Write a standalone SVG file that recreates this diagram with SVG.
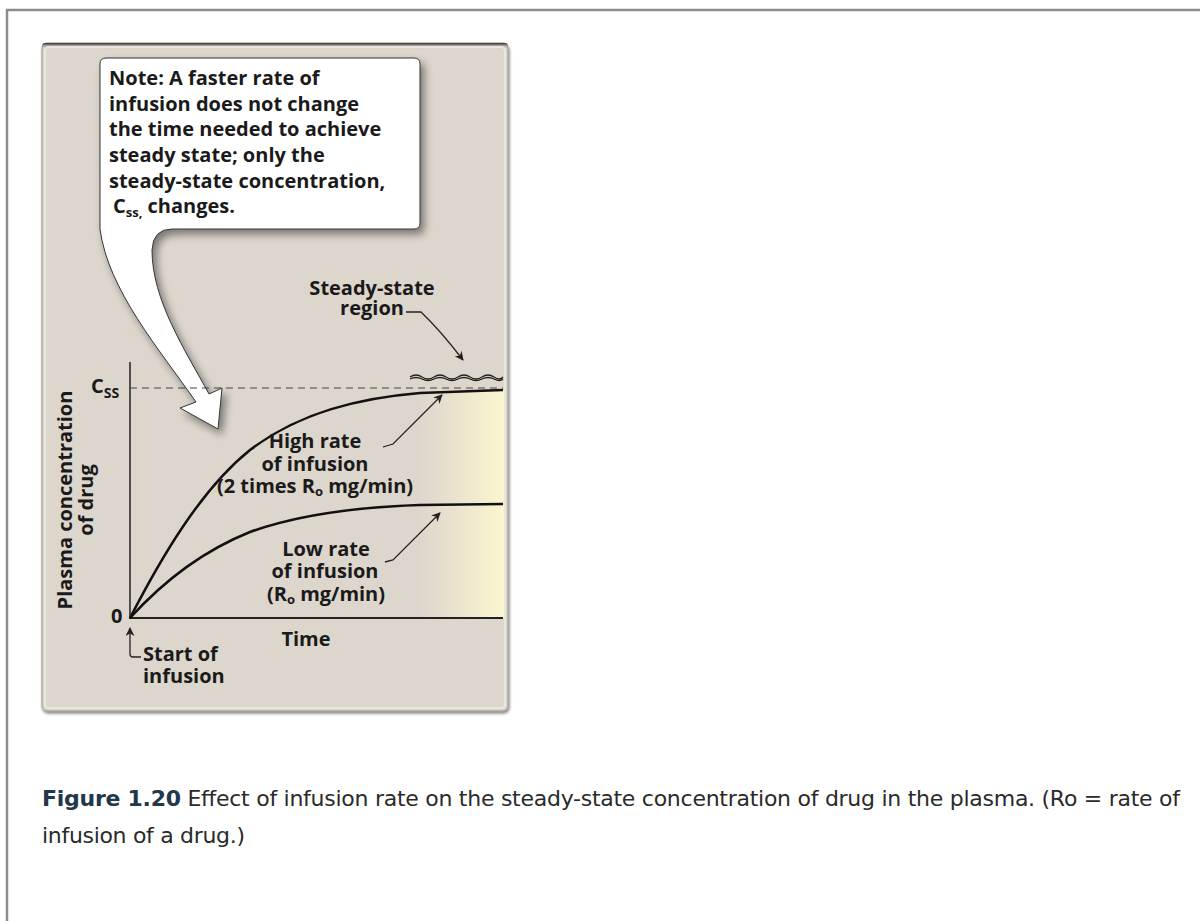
<svg xmlns="http://www.w3.org/2000/svg" width="1200" height="921" viewBox="0 0 1200 921">
<style>
.lbl{font-family:"Open Sans","Liberation Sans",sans-serif;font-weight:bold;font-size:20px;fill:#1a1a1a}
.note{font-family:"Open Sans","Liberation Sans",sans-serif;font-weight:bold;font-size:20px;fill:#1a1a1a}
.cap{font-family:"DejaVu Sans","Liberation Sans",sans-serif;font-size:22px;fill:#2a2a2a}
.curve{fill:none;stroke:#111;stroke-width:2.5}
.thin{fill:none;stroke:#222;stroke-width:1.3}
</style>
<defs>
<marker id="ah" viewBox="0 0 10 10" refX="9" refY="5" markerWidth="9" markerHeight="9" markerUnits="userSpaceOnUse" orient="auto">
<path d="M0,0 L10,5 L0,10 L3,5 Z" fill="#222"/>
</marker>
<linearGradient id="yel" x1="0" y1="0" x2="1" y2="0">
<stop offset="0" stop-color="#fbf6cf" stop-opacity="0"/>
<stop offset="1" stop-color="#fbf6cf" stop-opacity="1"/>
</linearGradient>
<linearGradient id="panelTop" x1="0" y1="0" x2="0" y2="1">
<stop offset="0" stop-color="#2a2622"/>
<stop offset="1" stop-color="#ddd6cd" stop-opacity="0"/>
</linearGradient>
<filter id="sh" x="-20%" y="-20%" width="150%" height="150%">
<feGaussianBlur in="SourceAlpha" stdDeviation="4"/>
<feOffset dx="4" dy="5" result="b"/>
<feComponentTransfer><feFuncA type="linear" slope="0.45"/></feComponentTransfer>
<feMerge><feMergeNode/><feMergeNode in="SourceGraphic"/></feMerge>
</filter>
<filter id="psh" x="-5%" y="-5%" width="110%" height="110%">
<feGaussianBlur in="SourceAlpha" stdDeviation="1.5"/>
<feOffset dx="1" dy="1.5"/>
<feComponentTransfer><feFuncA type="linear" slope="0.5"/></feComponentTransfer>
<feMerge><feMergeNode/><feMergeNode in="SourceGraphic"/></feMerge>
</filter>
</defs>
<rect x="0" y="0" width="1200" height="921" fill="#fff"/>
<rect x="7" y="10" width="1210" height="930" fill="#fff" stroke="#8c8c8c" stroke-width="2.5"/>

<g id="panel">
<rect x="42" y="43" width="466" height="668" rx="5" fill="#ddd6cd" stroke="#9a948d" stroke-width="1" filter="url(#psh)"/>
<rect x="42" y="43" width="466" height="6" rx="3" fill="url(#panelTop)"/>
<rect x="45" y="47" width="460" height="661" rx="4" fill="none" stroke="#ebe6df" stroke-width="2"/>
<rect x="420" y="390" width="84" height="228" fill="url(#yel)"/>
</g>

<g id="callout">
<path d="M106,58 L414,58 Q420,58 420,64 L420,223 Q420,229 414,229 L172,229 Q153,229 152,250 C152,300 185,350 209,394 L222,388 L218,429 L180,408 L196,402 C160,350 108,290 100,229 L100,64 Q100,58 106,58 Z" fill="#fff" stroke="#333" stroke-width="1" filter="url(#sh)"/>
<text class="note" x="109" y="85">Note: A faster rate of</text>
<text class="note" x="109" y="111">infusion does not change</text>
<text class="note" x="109" y="136">the time needed to achieve</text>
<text class="note" x="109" y="162">steady state; only the</text>
<text class="note" x="109" y="188">steady-state concentration,</text>
<text class="note" x="113" y="213">C<tspan font-size="13" dy="4">ss,</tspan><tspan dy="-4"> changes.</tspan></text>
</g>

<g id="axes">
<line x1="130" y1="362" x2="130" y2="618" stroke="#222" stroke-width="1.5"/>
<line x1="129" y1="618" x2="503" y2="618" stroke="#222" stroke-width="2.2"/>
<line x1="130" y1="388" x2="503" y2="388" stroke="#444" stroke-width="1" stroke-dasharray="7,5"/>
<text class="lbl" x="91" y="393">C<tspan font-size="14" dy="5">SS</tspan></text>
<text class="lbl" x="111" y="623">0</text>
<text class="lbl" x="306" y="646" text-anchor="middle">Time</text>
<text class="lbl" transform="translate(72,500) rotate(-90)" text-anchor="middle">Plasma concentration</text>
<text class="lbl" transform="translate(93,500) rotate(-90)" text-anchor="middle">of drug</text>
</g>

<g id="high-curve">
<path class="curve" d="M130,618 C160,560 200,490 250,450 C300,412 360,398 420,393 L503,390"/>
</g>
<g id="low-curve">
<path class="curve" d="M130,618 C160,585 200,552 250,532 C300,514 360,507 420,505 L503,504"/>
</g>

<g id="labels">
<text class="lbl" x="372" y="295" text-anchor="middle">Steady-state</text>
<text class="lbl" x="372" y="315" text-anchor="middle">region</text>
<text class="lbl" x="315" y="448" text-anchor="middle">High rate</text>
<text class="lbl" x="315" y="471" text-anchor="middle">of infusion</text>
<text class="lbl" x="315" y="493" text-anchor="middle">(2 times R<tspan font-size="13" dy="3">o</tspan><tspan dy="-3"> mg/min)</tspan></text>
<text class="lbl" x="326" y="556" text-anchor="middle">Low rate</text>
<text class="lbl" x="325" y="578" text-anchor="middle">of infusion</text>
<text class="lbl" x="326" y="601" text-anchor="middle">(R<tspan font-size="13" dy="3">o</tspan><tspan dy="-3"> mg/min)</tspan></text>
<text class="lbl" x="143" y="661">Start of</text>
<text class="lbl" x="143" y="683">infusion</text>
</g>

<g id="connectors">
<path class="thin" d="M406,312 L421,312 Q440,330 463,360" marker-end="url(#ah)"/>
<path class="thin" d="M410,377 q6,-4 12,0 t12,0 t12,0 t12,0 t12,0 t12,0 t12,0 t9,0" stroke-width="1.6"/>
<path class="thin" d="M410,379 q6,-3 12,0 t12,0 t12,0 t12,0 t12,0 t12,0 t12,0 t9,0" stroke-width="1"/>
<path class="thin" d="M383,447 L393,444 L442,395" marker-end="url(#ah)"/>
<path class="thin" d="M385,562 L393,560 L440,513" marker-end="url(#ah)"/>
<path class="thin" d="M141,657 L133,657 Q130,657 130,654 L130,628" marker-end="url(#ah)"/>
</g>

<g id="caption">
<text class="cap" x="42" y="806" textLength="1138"><tspan font-weight="bold" fill="#22384a">Figure 1.20</tspan> Effect of infusion rate on the steady-state concentration of drug in the plasma. (Ro = rate of</text>
<text class="cap" x="42" y="843" textLength="203">infusion of a drug.)</text>
</g>
</svg>
